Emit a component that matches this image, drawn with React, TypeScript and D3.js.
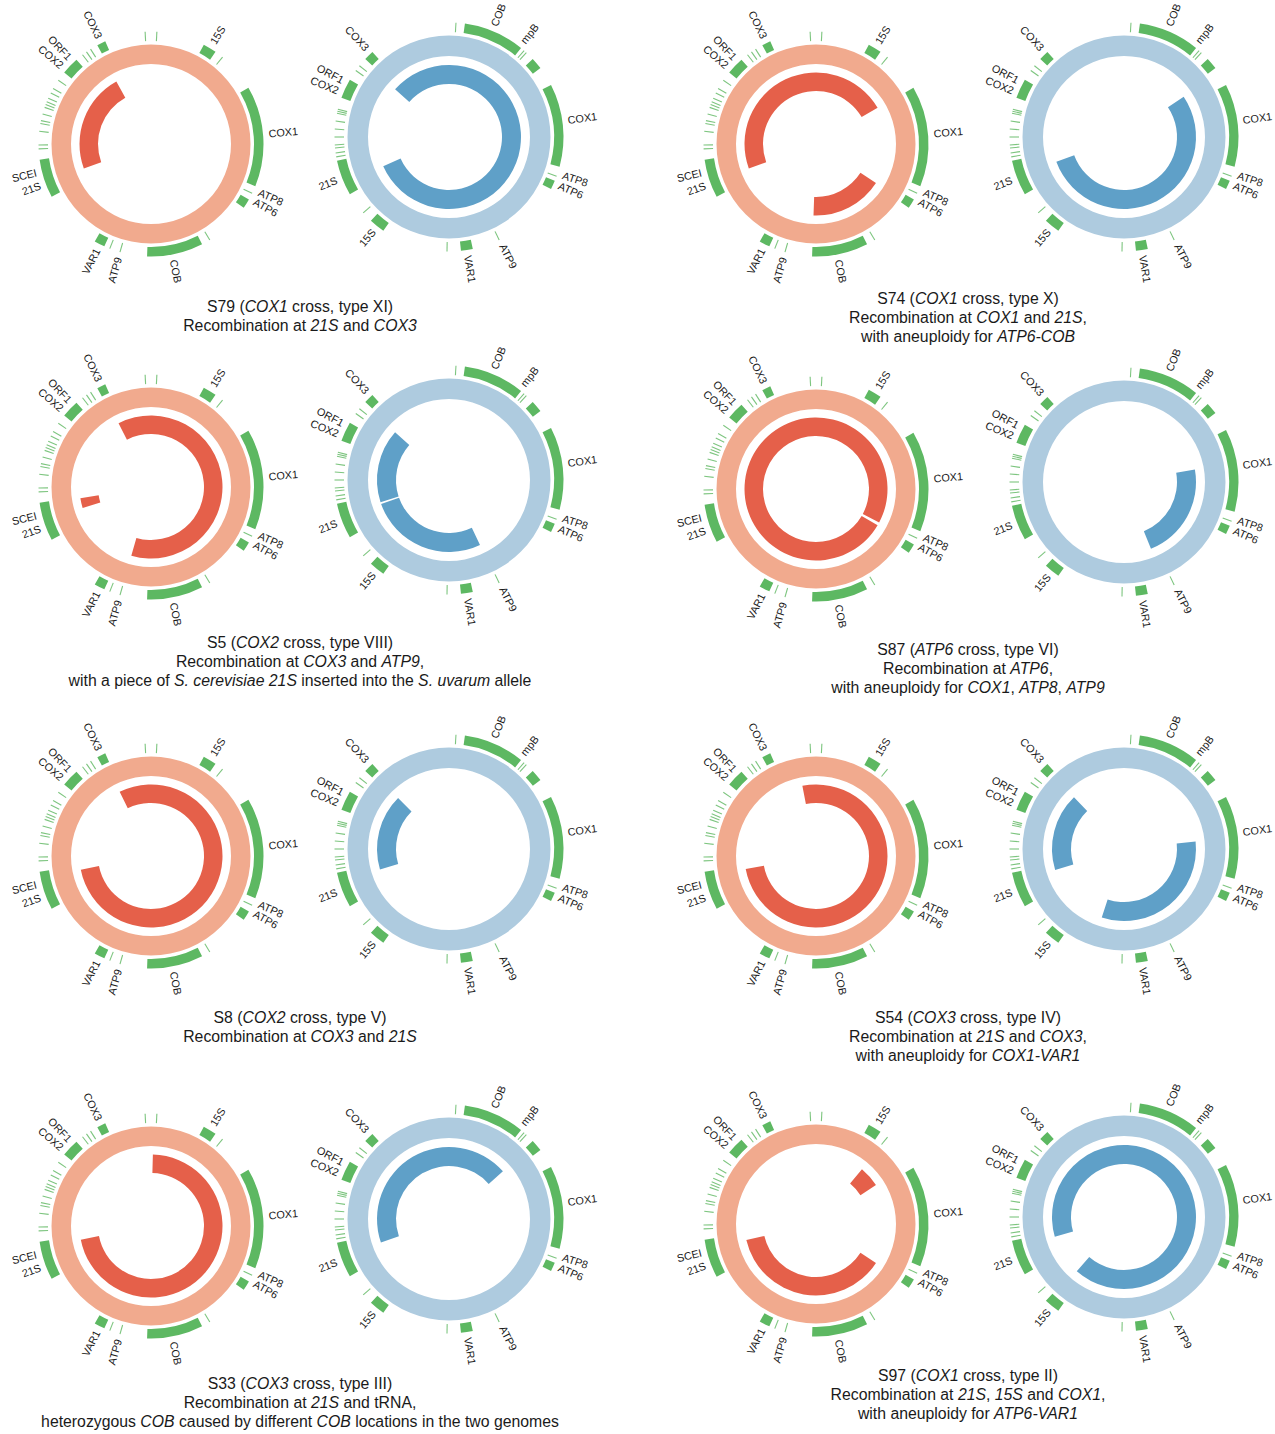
import React from 'react';
import * as d3 from 'd3';

// ---------- genome maps (degrees, clockwise from 12 o'clock) ----------
// S. cerevisiae (salmon circle)
const cerBlocks: [number, number][] = [[28, 35], [60, 112], [119.5, 124.5], [153, 182], [204.5, 210], [242, 262], [309.5, 318.5], [331.5, 336]];
const cerTicks: number[] = [357, 3, 39.5, 116, 148.5, 196, 201.5, 267.5, 269.5, 276.5, 280.5, 282, 285.5, 289, 290.5, 292, 294, 297, 299.5, 304.5, 322.5, 325, 327.5];
const cerLabels: [string, number][] = [['15S', 31.5], ['COX1', 85], ['ATP8', 114], ['ATP6', 119], ['COB', 169], ['ATP9', 196], ['VAR1', 207], ['21S', 249.5], ['SCEI', 256], ['COX2', 311], ['ORF1', 316.5], ['COX3', 334]];

// S. uvarum (blue circle)
const uvaBlocks: [number, number][] = [[8, 39], [47, 53], [63, 105], [112.5, 117], [168, 174], [215, 223], [240, 258], [290, 300], [313, 318]];
const uvaTicks: number[] = [3.5, 41, 42.5, 110, 154, 181, 228.5, 260, 262, 264.5, 266, 270, 274, 278, 282, 283, 284, 305.5, 308.5];
const uvaLabels: [string, number][] = [['COB', 22], ['mpB', 38], ['COX1', 82], ['ATP8', 108.5], ['ATP6', 113.7], ['ATP9', 153.6], ['VAR1', 171], ['15S', 219], ['21S', 249], ['COX2', 292.5], ['ORF1', 298], ['COX3', 317]];

// ---------- inherited segments per strain ----------
const strains: string[] = ['S79', 'S74', 'S5', 'S87', 'S8', 'S54', 'S33', 'S97'];
const cerArcs: [number, number][][] = [
  [[250, 331]],
  [[250, 419.5], [123, 182]],
  [[333, 556], [253, 261]],
  [[120.5, 478]],
  [[334, 619]],
  [[349, 619.5]],
  [[1.5, 259]],
  [[40, 57], [123, 257]],
];
const uvaArcs: [number, number][][] = [
  [[311.5, 606]],
  [[56, 250]],
  [[252, 311.5], [154.5, 250.5]],
  [[80, 158]],
  [[253.5, 315]],
  [[253, 316], [84, 198]],
  [[251, 408.5]],
  [[254, 581]],
];

// ---------- captions: [text, italic] ----------
type Seg = [string, boolean];
const captions: Seg[][][] = [
  [[['S79 (', false], ['COX1', true], [' cross, type XI)', false]],
   [['Recombination at ', false], ['21S', true], [' and ', false], ['COX3', true]]],
  [[['S74 (', false], ['COX1', true], [' cross, type X)', false]],
   [['Recombination at ', false], ['COX1', true], [' and ', false], ['21S', true], [',', false]],
   [['with aneuploidy for ', false], ['ATP6-COB', true]]],
  [[['S5 (', false], ['COX2', true], [' cross, type VIII)', false]],
   [['Recombination at ', false], ['COX3', true], [' and ', false], ['ATP9', true], [',', false]],
   [['with a piece of ', false], ['S. cerevisiae 21S', true], [' inserted into the ', false], ['S. uvarum', true], [' allele', false]]],
  [[['S87 (', false], ['ATP6', true], [' cross, type VI)', false]],
   [['Recombination at ', false], ['ATP6', true], [',', false]],
   [['with aneuploidy for ', false], ['COX1', true], [', ', false], ['ATP8', true], [', ', false], ['ATP9', true]]],
  [[['S8 (', false], ['COX2', true], [' cross, type V)', false]],
   [['Recombination at ', false], ['COX3', true], [' and ', false], ['21S', true]]],
  [[['S54 (', false], ['COX3', true], [' cross, type IV)', false]],
   [['Recombination at ', false], ['21S', true], [' and ', false], ['COX3', true], [',', false]],
   [['with aneuploidy for ', false], ['COX1-VAR1', true]]],
  [[['S33 (', false], ['COX3', true], [' cross, type III)', false]],
   [['Recombination at ', false], ['21S', true], [' and tRNA,', false]],
   [['heterozygous ', false], ['COB', true], [' caused by different ', false], ['COB', true], [' locations in the two genomes', false]]],
  [[['S97 (', false], ['COX1', true], [' cross, type II)', false]],
   [['Recombination at ', false], ['21S', true], [', ', false], ['15S', true], [' and ', false], ['COX1', true], [',', false]],
   [['with aneuploidy for ', false], ['ATP6-VAR1', true]]],
];

// ---------- layout ----------
const W = 1275, H = 1434;
const colLeftX = [151, 816];
const colRightX = [449, 1124];
const colCaptionX = [300, 968];
const panelLeftY = [144, 144, 487, 489, 856, 856, 1226, 1224];
const rightDy = -7;
const captionY = [312, 304, 648, 655, 1023, 1023, 1389, 1381];
const lineGap = 19;

const COLORS = {
  cerRing: '#F1AA8E', cerArc: '#E5604A',
  uvaRing: '#AECBDF', uvaArc: '#5FA0C8',
  gene: '#5DB862', tick: '#7DC57F', text: '#1a1a1a',
};

const rad = (d: number) => (d * Math.PI) / 180;

type Geo = { ring: [number, number]; inner: [number, number]; gene: [number, number]; label: number };
const geoCer: Geo = { ring: [80, 99.5], inner: [53, 71.5], gene: [103, 112.5], label: 118 };
const geoUva: Geo = { ring: [81, 101.5], inner: [53, 72], gene: [105, 114.5], label: 120 };

function Circle({ cx, cy, geo, ringColor, arcColor, blocks, ticks, labels, arcs }: {
  cx: number; cy: number; geo: Geo; ringColor: string; arcColor: string;
  blocks: [number, number][]; ticks: number[]; labels: [string, number][]; arcs: [number, number][];
}) {
  const ringArc = d3.arc<any>().innerRadius(geo.ring[0]).outerRadius(geo.ring[1]);
  const innerArc = d3.arc<any>().innerRadius(geo.inner[0]).outerRadius(geo.inner[1]);
  const geneArc = d3.arc<any>().innerRadius(geo.gene[0]).outerRadius(geo.gene[1]);
  return (
    <g transform={`translate(${cx},${cy})`}>
      <path d={ringArc({ startAngle: 0, endAngle: 2 * Math.PI }) || ''} fill={ringColor} />
      {arcs.map((a, i) => (
        <path key={'a' + i} d={innerArc({ startAngle: rad(a[0]), endAngle: rad(a[1]) }) || ''} fill={arcColor} />
      ))}
      {blocks.map((b, i) => (
        <path key={'b' + i} d={geneArc({ startAngle: rad(b[0]), endAngle: rad(b[1]) }) || ''} fill={COLORS.gene} />
      ))}
      {ticks.map((t, i) => {
        const s = Math.sin(rad(t)), c = -Math.cos(rad(t));
        return (
          <line key={'t' + i} x1={geo.gene[0] * s} y1={geo.gene[0] * c} x2={geo.gene[1] * s} y2={geo.gene[1] * c}
            stroke={COLORS.tick} strokeWidth={1.1} />
        );
      })}
      {labels.map(([name, a], i) => {
        const flip = a >= 180;
        return (
          <g key={'l' + i} transform={`rotate(${a - 90}) translate(${geo.label},0)${flip ? ' rotate(180)' : ''}`}>
            <text textAnchor={flip ? 'end' : 'start'} dy="0.35em" fontSize={10.8}
              fontFamily="'Liberation Sans', Arial, sans-serif" fill={COLORS.text}>{name}</text>
          </g>
        );
      })}
    </g>
  );
}

export default function App() {
  return (
    <svg width={W} height={H} viewBox={`0 0 ${W} ${H}`}
      style={{ position: 'absolute', left: 0, top: 0, display: 'block', background: '#fff' }}>
      <rect width={W} height={H} fill="#fff" />
      {strains.map((s, p) => {
        const col = p % 2;
        const ly = panelLeftY[p];
        return (
          <g key={s}>
            <Circle cx={colLeftX[col]} cy={ly} geo={geoCer} ringColor={COLORS.cerRing} arcColor={COLORS.cerArc}
              blocks={cerBlocks} ticks={cerTicks} labels={cerLabels} arcs={cerArcs[p]} />
            <Circle cx={colRightX[col]} cy={ly + rightDy} geo={geoUva} ringColor={COLORS.uvaRing} arcColor={COLORS.uvaArc}
              blocks={uvaBlocks} ticks={uvaTicks} labels={uvaLabels} arcs={uvaArcs[p]} />
            {captions[p].map((line, li) => (
              <text key={li} x={colCaptionX[col]} y={captionY[p] + li * lineGap} textAnchor="middle"
                fontSize={15.8} fontFamily="'Liberation Sans', Arial, sans-serif" fill={COLORS.text}>
                {line.map(([t, it], k) => (
                  <tspan key={k} fontStyle={it ? 'italic' : 'normal'}>{t}</tspan>
                ))}
              </text>
            ))}
          </g>
        );
      })}
    </svg>
  );
}
